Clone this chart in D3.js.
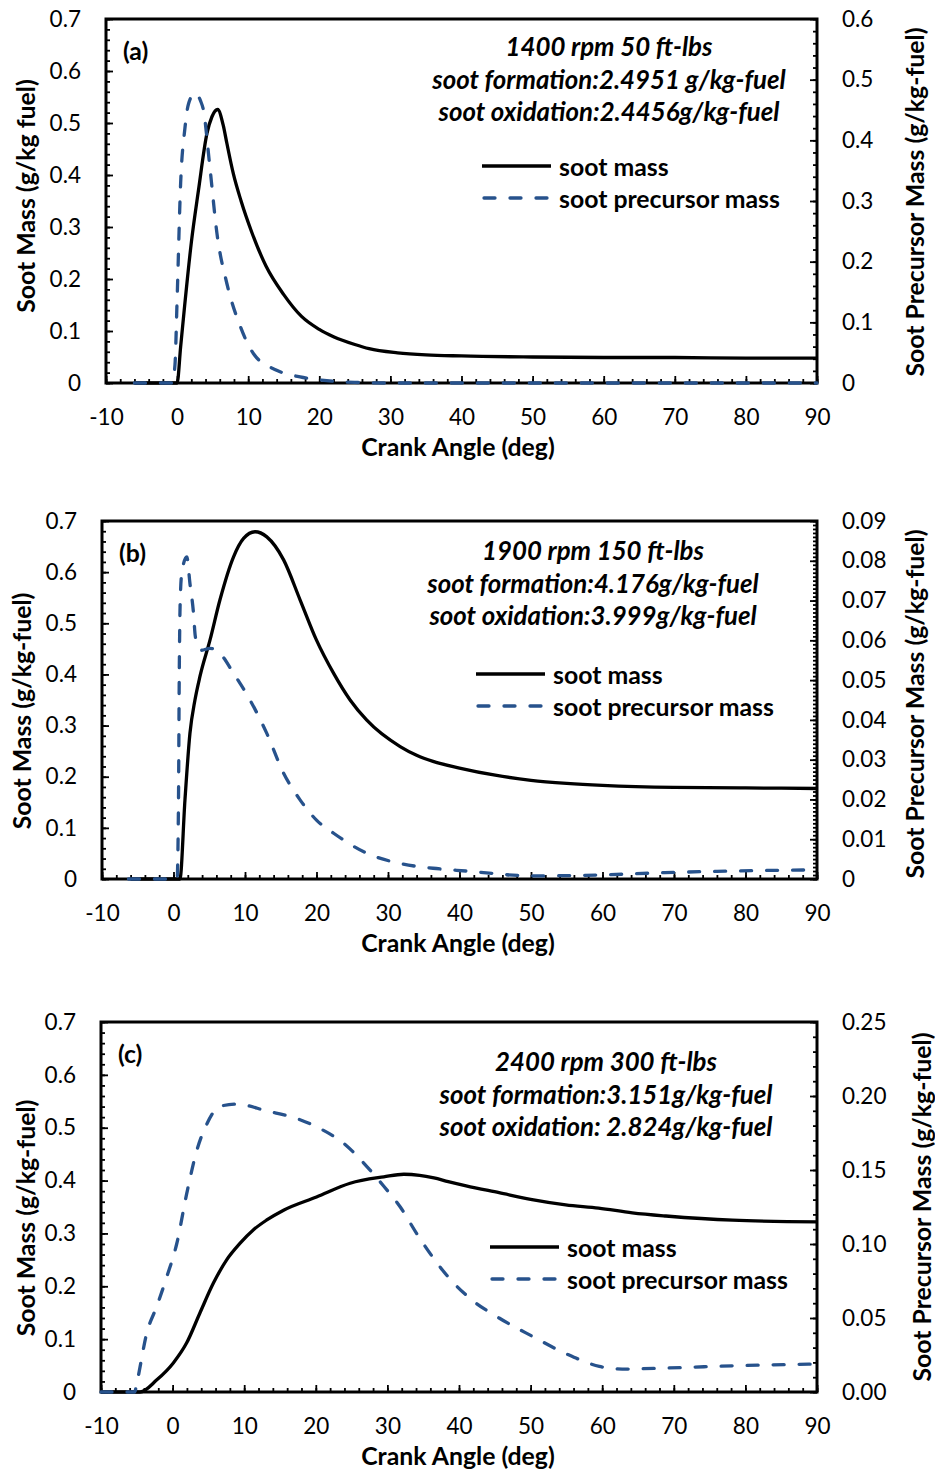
<!DOCTYPE html>
<html>
<head>
<meta charset="utf-8">
<script src="https://cdn.jsdelivr.net/npm/d3@7"></script>
<style>
  body { margin: 0; background: #fff; }
  svg text { font-family: Lato, "Open Sans", sans-serif; fill: #000; }
</style>
</head>
<body>
<svg id="chart" width="935" height="1469"></svg>
<script>
// ---- data (crank angle in deg) ----
const xTicks = [-10, 0, 10, 20, 30, 40, 50, 60, 70, 80, 90];

// (a) 1400 rpm 50 ft-lbs
const sootAngleA = [-6, 0, 0.5, 1, 2, 3, 4.2, 4.9, 5.7, 6.5, 7, 7.9, 9, 10.5, 12.5, 15, 17.5, 20, 22, 25, 27, 31, 35, 40, 50, 60, 70, 80, 90];
const sootMassA = [0, 0, 0.07, 0.14, 0.27, 0.37, 0.48, 0.512, 0.526, 0.495, 0.461, 0.403, 0.35, 0.29, 0.225, 0.17, 0.128, 0.103, 0.089, 0.074, 0.066, 0.058, 0.054, 0.052, 0.05, 0.049, 0.049, 0.048, 0.048];
const precAngleA = [-6, -0.7, -0.3, 0, 0.5, 1.1, 1.6, 2.5, 3.3, 3.7, 4.6, 5.6, 7, 8.9, 10.7, 14, 17.3, 20.1, 25, 30, 90];
const precMassA = [0, 0, 0.03, 0.137, 0.33, 0.42, 0.46, 0.478, 0.465, 0.45, 0.357, 0.247, 0.164, 0.093, 0.049, 0.021, 0.010, 0.005, 0.001, 0, 0];

// (b) 1900 rpm 150 ft-lbs
const sootAngleB = [-6, 0.9, 1.6, 2.3, 3.0, 3.7, 5.1, 6.5, 8.4, 9.8, 11.4, 13.05, 15.4, 17.7, 20, 22.4, 24.7, 27, 31.7, 34, 36.3, 40, 45, 50, 55, 60, 70, 80, 90];
const sootMassB = [0, 0, 0.154, 0.285, 0.35, 0.396, 0.467, 0.546, 0.63, 0.666, 0.679, 0.669, 0.624, 0.546, 0.467, 0.402, 0.35, 0.311, 0.259, 0.242, 0.23, 0.217, 0.203, 0.193, 0.187, 0.183, 0.179, 0.178, 0.177];
const precAngleB = [-6.3, 0.5, 0.7, 0.8, 0.92, 1.15, 1.86, 2.3, 2.8, 3.05, 3.5, 3.9, 5.1, 6.5, 8.4, 10.7, 13.05, 15.4, 17.7, 20, 22.4, 27, 31.7, 36.3, 41, 50, 59.4, 68.7, 78, 90];
const precMassB = [0, 0, 0.02, 0.05, 0.0685, 0.0768, 0.081, 0.0743, 0.0668, 0.061, 0.0584, 0.0575, 0.058, 0.0567, 0.0517, 0.045, 0.0366, 0.0266, 0.0199, 0.0148, 0.0115, 0.0065, 0.0039, 0.0027, 0.002, 0.0008, 0.001, 0.0016, 0.002, 0.0023];

// (c) 2400 rpm 300 ft-lbs
const sootAngleC = [-10, -4.55, -2.2, 0.1, 1.97, 3.8, 5.7, 7.55, 9.4, 11.3, 13.1, 15.5, 20.1, 24.8, 29.5, 32.3, 34.5, 36.5, 38.5, 41, 45.6, 50.2, 54.9, 59.5, 64.2, 68.9, 78.2, 90];
const sootMassC = [0, 0, 0.023, 0.055, 0.093, 0.149, 0.206, 0.25, 0.281, 0.307, 0.325, 0.344, 0.369, 0.395, 0.407, 0.412, 0.41, 0.405, 0.398, 0.39, 0.377, 0.364, 0.354, 0.348, 0.339, 0.333, 0.325, 0.322];
const precAngleC = [-10, -5.3, -5.0, -3.6, -2.2, -0.8, 0.57, 1.97, 3.37, 4.77, 6.6, 8.96, 13.1, 17.8, 20.6, 23.9, 27.2, 29.5, 31.8, 34.1, 36.5, 38.8, 41.6, 45.6, 50.3, 54.9, 59.6, 62.8, 68.9, 78.2, 90];
const precMassC = [0, 0, 0.006, 0.04, 0.058, 0.078, 0.1, 0.134, 0.163, 0.181, 0.193, 0.1945, 0.19, 0.184, 0.178, 0.168, 0.152, 0.139, 0.125, 0.107, 0.09, 0.076, 0.063, 0.05, 0.0375, 0.026, 0.0173, 0.0155, 0.0162, 0.0177, 0.0189];

const leftTicks = [0, 0.1, 0.2, 0.3, 0.4, 0.5, 0.6, 0.7];
const rightTicksA = [0, 0.1, 0.2, 0.3, 0.4, 0.5, 0.6];
const rightTicksB = [0, 0.01, 0.02, 0.03, 0.04, 0.05, 0.06, 0.07, 0.08, 0.09];
const rightTicksC = [0, 0.05, 0.10, 0.15, 0.20, 0.25];

const notesA = ["1400 rpm 50 ft-lbs", "soot formation:2.4951 g/kg-fuel", "soot oxidation:2.4456g/kg-fuel"];
const notesB = ["1900 rpm 150 ft-lbs", "soot formation:4.176g/kg-fuel", "soot oxidation:3.999g/kg-fuel"];
const notesC = ["2400 rpm 300 ft-lbs", "soot formation:3.151g/kg-fuel", "soot oxidation: 2.824g/kg-fuel"];
const legendNames = ["soot mass", "soot precursor mass"];

// ---- layout of each panel ----
const panels = [
  { tag: "(a)", left: 106, right: 817, top: 19, bottom: 383,
    sootX: sootAngleA, sootY: sootMassA, precX: precAngleA, precY: precMassA,
    rightMax: 0.6, rightTicks: rightTicksA, rightMinor: 0.02, rightFmt: d => d === 0 ? "0" : d3.format(".1f")(d),
    yTitle: "Soot Mass (g/kg fuel)", notes: notesA, noteX: 609, noteY: 46, legX: 482, legY: 166,
    yTitleX: 25, yTitleY: 196, rTitleX: 914, rTitleY: 202 },
  { tag: "(b)", left: 102, right: 817, top: 521, bottom: 879,
    sootX: sootAngleB, sootY: sootMassB, precX: precAngleB, precY: precMassB,
    rightMax: 0.09, rightTicks: rightTicksB, rightMinor: 0.001, rightFmt: d => d === 0 ? "0" : d3.format(".2f")(d),
    yTitle: "Soot Mass (g/kg-fuel)", notes: notesB, noteX: 593, noteY: 550, legX: 476, legY: 674,
    yTitleX: 21, yTitleY: 711, rTitleX: 914, rTitleY: 704 },
  { tag: "(c)", left: 101, right: 817, top: 1022, bottom: 1392,
    sootX: sootAngleC, sootY: sootMassC, precX: precAngleC, precY: precMassC,
    rightMax: 0.25, rightTicks: rightTicksC, rightMinor: 0.01, rightFmt: d3.format(".2f"),
    yTitle: "Soot Mass (g/kg-fuel)", notes: notesC, noteX: 606, noteY: 1061, legX: 490, legY: 1247,
    yTitleX: 25, yTitleY: 1218, rTitleX: 921, rTitleY: 1207 }
];

const blue = "#27528c";
const boldSize = "24.8px";
const svg = d3.select("#chart");
svg.append("rect").attr("width", 935).attr("height", 1469).attr("fill", "#fff");

const range = (a, b, s) => d3.range(Math.round(a / s), Math.round(b / s) + 1).map(i => +(i * s).toFixed(4));

panels.forEach(p => {
  const g = svg.append("g");
  const x = d3.scaleLinear().domain([-10, 90]).range([p.left, p.right]);
  const yL = d3.scaleLinear().domain([0, 0.7]).range([p.bottom, p.top]);
  const yR = d3.scaleLinear().domain([0, p.rightMax]).range([p.bottom, p.top]);

  // minor ticks
  const minor = (axis, sel) => { sel.call(axis); sel.selectAll("text").remove(); sel.select(".domain").remove(); };
  minor(d3.axisBottom(x).tickValues(range(-10, 90, 2)).tickSize(-4),
        g.append("g").attr("transform", `translate(0,${p.bottom})`));
  minor(d3.axisLeft(yL).tickValues(range(0, 0.7, 0.02)).tickSize(-4),
        g.append("g").attr("transform", `translate(${p.left},0)`));
  minor(d3.axisRight(yR).tickValues(range(0, p.rightMax, p.rightMinor)).tickSize(-4),
        g.append("g").attr("transform", `translate(${p.right},0)`));

  // major ticks + labels
  const gx = g.append("g").attr("transform", `translate(0,${p.bottom})`)
    .call(d3.axisBottom(x).tickValues(xTicks).tickSize(-7).tickPadding(26).tickFormat(d => String(d)));
  const gl = g.append("g").attr("transform", `translate(${p.left},0)`)
    .call(d3.axisLeft(yL).tickValues(leftTicks).tickSize(-7).tickPadding(25)
      .tickFormat(d => d === 0 ? "0" : d3.format(".1f")(d)));
  const gr = g.append("g").attr("transform", `translate(${p.right},0)`)
    .call(d3.axisRight(yR).tickValues(p.rightTicks).tickSize(-7).tickPadding(25).tickFormat(p.rightFmt));
  [gx, gl, gr].forEach(a => {
    a.select(".domain").remove();
    a.selectAll("text").style("font-size", "22.5px").attr("font-family", "Lato, sans-serif");
  });
  g.selectAll(".tick line").attr("stroke", "#000").attr("stroke-width", 1.8);

  // frame
  g.append("rect")
    .attr("x", p.left).attr("y", p.top)
    .attr("width", p.right - p.left).attr("height", p.bottom - p.top)
    .attr("fill", "none").attr("stroke", "#000").attr("stroke-width", 3);

  // titles
  g.append("text").attr("x", 458).attr("y", p.bottom + 63)
    .attr("text-anchor", "middle").attr("dominant-baseline", "central")
    .style("font-size", boldSize).style("font-weight", 700).text("Crank Angle (deg)");
  g.append("text").attr("transform", `translate(${p.yTitleX},${p.yTitleY}) rotate(-90)`)
    .attr("text-anchor", "middle").attr("dominant-baseline", "central")
    .style("font-size", boldSize).style("font-weight", 700).text(p.yTitle);
  g.append("text").attr("transform", `translate(${p.rTitleX},${p.rTitleY}) rotate(-90)`)
    .attr("text-anchor", "middle").attr("dominant-baseline", "central")
    .style("font-size", boldSize).style("font-weight", 700).text("Soot Precursor Mass (g/kg-fuel)");

  // panel tag
  g.append("text").attr("x", p.left + 17).attr("y", p.top + 31)
    .attr("dominant-baseline", "central")
    .style("font-size", boldSize).style("font-weight", 700).text(p.tag);

  // notes
  g.selectAll(".note").data(p.notes).join("text")
    .attr("x", p.noteX).attr("y", (d, i) => p.noteY + i * 32.5)
    .attr("text-anchor", "middle").attr("dominant-baseline", "central")
    .style("font-size", "25.8px").style("font-weight", 700).style("font-style", "italic")
    .text(d => d);

  // legend
  const leg = g.append("g");
  leg.append("line").attr("x1", p.legX).attr("x2", p.legX + 69).attr("y1", p.legY).attr("y2", p.legY)
    .attr("stroke", "#000").attr("stroke-width", 3.3);
  leg.append("line").attr("x1", p.legX + 2).attr("x2", p.legX + 69).attr("y1", p.legY + 32).attr("y2", p.legY + 32)
    .attr("stroke", blue).attr("stroke-width", 3.3).attr("stroke-dasharray", "11,15").attr("stroke-linecap", "round");
  leg.selectAll("text").data(legendNames).join("text")
    .attr("x", p.legX + 77).attr("y", (d, i) => p.legY + i * 32)
    .attr("dominant-baseline", "central")
    .style("font-size", boldSize).style("font-weight", 700).text(d => d);

  // series
  const soot = p.sootX.map((a, i) => [a, p.sootY[i]]);
  const prec = p.precX.map((a, i) => [a, p.precY[i]]);
  g.append("path").datum(soot)
    .attr("d", d3.line().x(d => x(d[0])).y(d => yL(d[1])).curve(d3.curveMonotoneX))
    .attr("fill", "none").attr("stroke", "#000").attr("stroke-width", 3.3);
  g.append("path").datum(prec)
    .attr("d", d3.line().x(d => x(d[0])).y(d => yR(d[1])).curve(d3.curveMonotoneX))
    .attr("fill", "none").attr("stroke", blue).attr("stroke-width", 3.3)
    .attr("stroke-dasharray", "11,15").attr("stroke-linecap", "round");
});
</script>
</body>
</html>
